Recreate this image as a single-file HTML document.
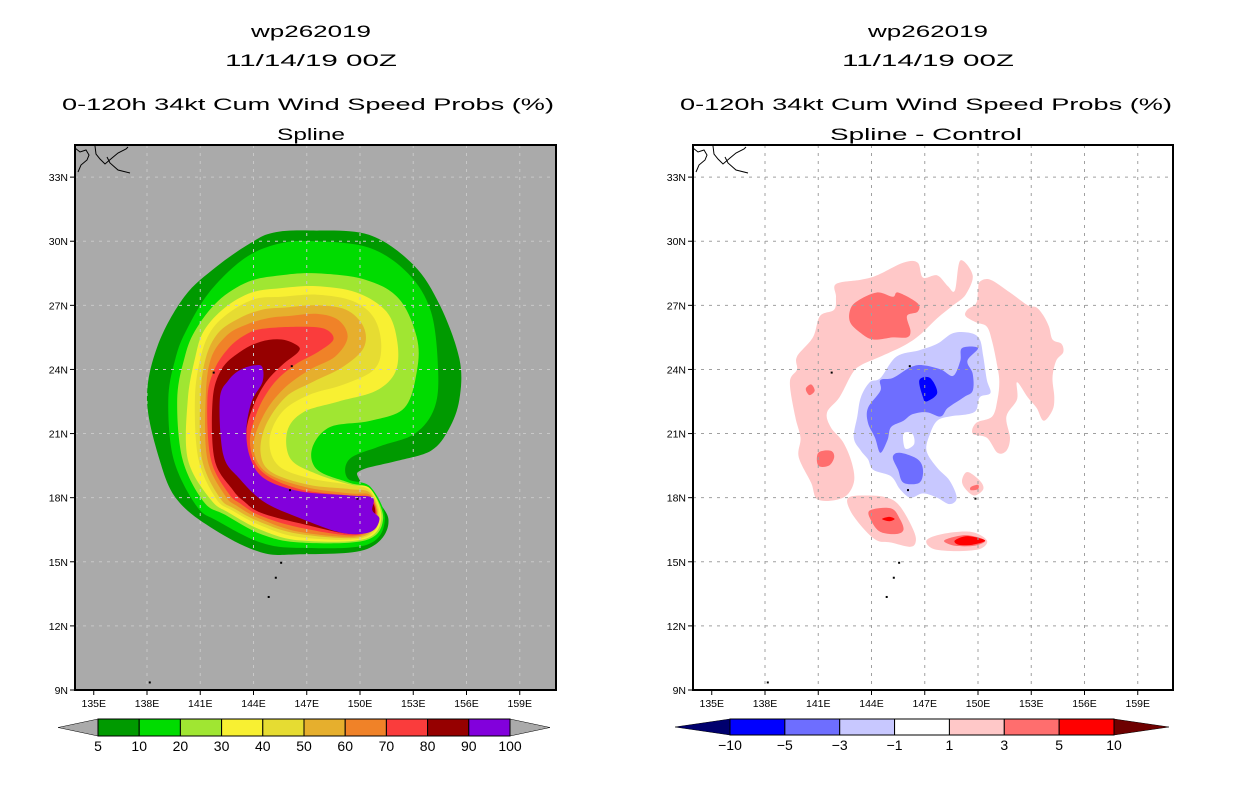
<!DOCTYPE html>
<html><head><meta charset="utf-8">
<style>
html,body{margin:0;padding:0;background:#fff;}
svg{display:block;font-family:"Liberation Sans",sans-serif;}
</style></head>
<body>
<svg id="chart" width="1236" height="800" viewBox="0 0 1236 800" xmlns="http://www.w3.org/2000/svg">
  <g font-size="16.5" fill="#000" text-anchor="middle">
    <text x="311" y="37" textLength="120" lengthAdjust="spacingAndGlyphs">wp262019</text>
    <text x="311" y="66" textLength="172" lengthAdjust="spacingAndGlyphs">11/14/19 00Z</text>
    <text x="308" y="110" textLength="492" lengthAdjust="spacingAndGlyphs">0-120h 34kt Cum Wind Speed Probs (%)</text>
    <text x="311" y="140" textLength="68" lengthAdjust="spacingAndGlyphs">Spline</text>
  </g>
  <g font-size="16.5" fill="#000" text-anchor="middle">
    <text x="928" y="37" textLength="120" lengthAdjust="spacingAndGlyphs">wp262019</text>
    <text x="928" y="66" textLength="172" lengthAdjust="spacingAndGlyphs">11/14/19 00Z</text>
    <text x="926" y="110" textLength="492" lengthAdjust="spacingAndGlyphs">0-120h 34kt Cum Wind Speed Probs (%)</text>
    <text x="926" y="140" textLength="192" lengthAdjust="spacingAndGlyphs">Spline - Control</text>
  </g>
  <g id="leftPanel"></g>
  <g id="rightPanel"></g>
  <g id="leftBar"></g>
  <g id="rightBar"></g>
</svg>
<script>
// ---------- data ----------
const lonTicks = [135,138,141,144,147,150,153,156,159];
const latTicks = [9,12,15,18,21,24,27,30,33];
const probLevels = ["5","10","20","30","40","50","60","70","80","90","100"];
const probColors = ["#009a00","#00dc00","#a0e632","#f8f032","#e6dc32","#e6af2d","#f08228","#fa3c3c","#960000","#8200dc"];
const diffLevels = ["-10","-5","-3","-1","1","3","5","10"];
const diffColors = ["#0000ff","#6e6eff","#c8c8ff","#ffffff","#ffc8c8","#ff6e6e","#ff0000"];
const diffLowColor = "#00006e";
const diffHighColor = "#6e0000";

// probability contours (lon, lat)
const prob5 = [[145.1,30.4],[147.2,30.5],[150.5,30.3],[153.0,28.9],[154.5,27.0],[155.6,24.5],[155.6,22.6],[155.0,21.2],[154.0,20.2],[152.0,19.7],[150.1,19.3],[150.0,18.8],[151.6,17.0],[150.4,15.6],[146.6,15.35],[144.4,15.45],[141.8,16.5],[139.7,17.9],[138.7,19.8],[138.0,22.6],[138.6,25.1],[140.1,27.4],[141.9,28.8],[143.8,29.9]];
const prob10 = [[145.5,29.9],[147.5,30.0],[150.5,29.7],[152.7,28.5],[154.0,26.7],[154.4,24.0],[154.2,22.2],[153.1,21.0],[151.1,20.4],[149.4,19.8],[149.3,18.9],[150.6,18.5],[151.4,17.0],[150.4,15.8],[146.6,15.65],[144.4,15.9],[142.0,16.9],[140.8,17.6],[139.5,19.8],[139.2,22.6],[139.6,24.5],[140.2,25.8],[141.5,27.6],[143.5,29.2]];
const prob20 = [[145.5,28.4],[147.5,28.5],[150.3,28.2],[152.2,27.3],[153.2,25.5],[153.2,23.9],[152.5,22.2],[150.6,21.6],[148.3,21.3],[147.3,20.3],[147.6,19.3],[149.4,18.7],[150.6,18.4],[151.3,17.0],[150.3,16.0],[146.6,15.9],[144.4,16.3],[142.4,17.2],[141.2,17.8],[140.0,19.8],[139.7,22.6],[140.1,24.5],[140.7,25.8],[142.0,27.2],[143.7,28.1]];
const prob30 = [[145.5,27.8],[147.5,27.9],[149.8,27.6],[151.5,26.7],[152.1,25.3],[152.0,23.9],[150.9,23.0],[148.8,22.5],[146.8,22.0],[145.9,21.1],[146.1,19.8],[147.6,19.1],[149.5,18.6],[150.6,18.4],[151.2,17.0],[150.2,16.05],[146.6,16.0],[144.4,16.5],[142.6,17.3],[141.6,17.9],[140.3,19.8],[140.3,22.6],[140.7,24.5],[141.2,25.8],[142.4,26.9],[143.9,27.6]];
const prob40 = [[145.6,27.4],[147.6,27.5],[149.6,27.2],[150.8,26.4],[151.2,25.1],[150.8,24.0],[149.1,23.3],[147.1,22.8],[145.6,22.0],[144.9,20.7],[145.4,19.5],[147.2,18.9],[149.4,18.6],[150.6,18.3],[151.1,17.0],[150.1,16.1],[146.6,16.15],[144.4,16.7],[142.8,17.4],[141.9,17.95],[140.9,19.8],[140.7,22.6],[141.0,24.5],[141.6,25.8],[142.7,26.7],[144.1,27.3]];
const prob50 = [[145.8,26.9],[147.5,27.0],[149.2,26.8],[150.2,26.0],[150.2,25.0],[149.0,24.1],[147.3,23.4],[145.8,22.7],[144.7,21.4],[144.4,20.1],[145.0,19.2],[147.1,18.6],[149.4,18.4],[150.6,18.2],[151.0,17.0],[150.0,16.15],[146.6,16.3],[144.4,16.85],[142.9,17.5],[142.1,18.0],[141.1,19.8],[141.0,22.6],[141.3,24.5],[142.0,25.7],[143.2,26.4],[144.5,26.8]];
const prob60 = [[146.0,26.5],[147.6,26.6],[148.8,26.3],[149.3,25.5],[148.6,24.6],[147.2,24.0],[145.7,23.1],[144.6,21.9],[144.0,20.4],[144.7,19.2],[146.9,18.5],[149.4,18.2],[150.6,18.1],[150.9,17.0],[149.9,16.2],[146.6,16.4],[144.4,17.0],[143.1,17.6],[142.4,18.1],[141.4,19.8],[141.3,22.6],[141.6,24.5],[142.5,25.6],[143.6,26.1],[144.8,26.4]];
const prob70 = [[144.5,25.9],[146.6,26.0],[148.0,25.9],[148.5,25.4],[147.6,24.8],[146.3,24.2],[145.1,23.3],[144.2,22.0],[143.8,20.5],[144.5,19.2],[146.6,18.4],[149.4,18.1],[150.6,18.0],[150.9,17.0],[149.8,16.25],[146.6,16.6],[144.4,17.15],[143.3,17.7],[142.6,18.2],[141.6,19.8],[141.4,22.6],[141.8,24.0],[142.6,25.0],[143.5,25.6]];
const prob80 = [[145.6,25.4],[146.5,25.1],[146.5,24.8],[145.6,24.2],[144.7,23.4],[144.0,22.3],[143.6,21.1],[143.8,19.8],[144.6,18.8],[146.6,18.2],[149.4,18.0],[150.6,17.9],[150.8,17.0],[149.7,16.3],[146.6,16.8],[144.4,17.3],[143.5,17.8],[142.8,18.4],[141.8,19.8],[141.7,22.6],[142.2,24.0],[143.2,24.8],[144.4,25.3]];
const prob90 = [[144.1,24.2],[144.5,24.1],[144.5,23.4],[143.9,22.5],[143.6,21.2],[143.8,19.9],[144.6,18.9],[146.6,18.3],[149.4,18.1],[150.7,18.0],[150.7,17.4],[151.1,17.0],[150.6,16.4],[149.0,16.35],[146.6,17.05],[144.6,17.8],[143.2,18.9],[142.3,20.0],[142.1,22.6],[142.6,23.5],[143.3,24.0]];

// difference contours (lon, lat)
const diffPink1 = [[142.0,28.0],[143.4,28.2],[144.3,28.4],[145.8,29.0],[146.6,29.0],[146.9,28.3],[147.7,28.4],[148.3,27.9],[148.7,27.7],[149.0,29.1],[149.7,28.4],[149.3,27.5],[148.6,27.0],[147.7,26.4],[146.7,25.6],[145.8,25.1],[144.5,24.6],[143.4,24.2],[142.9,23.8],[142.2,22.7],[141.5,22.0],[141.7,21.3],[142.4,20.6],[142.9,19.6],[143.0,18.7],[142.4,18.0],[141.0,17.9],[140.6,18.7],[139.9,19.9],[140.0,20.8],[139.7,21.8],[139.4,23.4],[139.8,24.0],[139.8,24.6],[140.7,25.5],[141.1,26.5],[141.9,26.8],[142.0,27.4]];
const diffPink2 = [[150.1,28.1],[150.7,28.2],[151.8,27.6],[152.8,27.0],[153.3,26.9],[153.7,26.5],[154.0,26.0],[154.2,25.4],[154.7,25.2],[154.8,24.8],[154.4,24.4],[154.2,23.6],[154.3,22.7],[154.2,22.1],[153.7,21.6],[153.3,22.2],[152.8,22.7],[152.2,23.4],[152.2,22.6],[151.6,21.8],[151.8,20.8],[151.6,20.2],[151.1,20.1],[150.5,20.8],[149.7,21.0],[149.9,21.5],[150.8,21.8],[151.1,22.6],[151.2,23.4],[151.1,24.1],[150.8,25.3],[150.5,26.0],[149.9,26.2],[149.3,26.5],[149.4,26.8],[149.9,27.1],[150.0,27.7]];
const diffPink3 = [[142.7,18.0],[143.8,18.1],[144.9,18.0],[145.6,17.6],[146.3,16.6],[146.5,16.0],[146.2,15.7],[145.1,15.9],[144.3,16.0],[143.5,16.6],[142.8,17.4]];
const diffPink4 = [[147.1,16.0],[148.0,16.3],[149.6,16.4],[150.5,16.0],[150.1,15.6],[148.8,15.5],[147.5,15.6]];
const diffPink5 = [[149.4,19.2],[150.1,18.8],[150.3,18.4],[149.8,18.1],[149.3,18.4],[149.1,18.8]];
const diffMed1 = [[142.8,26.8],[143.2,27.2],[144.3,27.6],[145.2,27.4],[145.5,27.6],[146.6,27.1],[146.6,26.7],[146.0,26.5],[146.2,25.8],[146.0,25.5],[145.2,25.5],[144.1,25.4],[143.4,25.7],[142.8,26.2]];
const diffMed2 = [[141.0,20.1],[141.7,20.2],[141.9,19.9],[141.6,19.5],[141.0,19.5]];
const diffMed3 = [[140.3,23.1],[140.6,23.3],[140.8,23.0],[140.5,22.8]];
const diffMed4 = [[143.9,17.4],[145.1,17.5],[145.6,17.0],[145.8,16.5],[145.4,16.3],[144.5,16.4],[144.0,16.9]];
const diffMed5 = [[148.1,16.0],[149.3,16.25],[150.4,16.0],[149.8,15.75],[148.7,15.75]];
const diffMed6 = [[149.6,18.5],[150.0,18.6],[150.0,18.4],[149.6,18.35]];
const diffRed1 = [[144.6,17.0],[145.0,17.1],[145.3,17.0],[145.0,16.9]];
const diffRed2 = [[148.7,16.0],[149.4,16.2],[150.4,16.0],[149.7,15.8],[148.9,15.8]];
const diffLightBlue = [[143.4,22.7],[143.9,23.4],[144.5,23.6],[145.4,24.6],[146.7,24.9],[147.7,25.2],[148.6,25.7],[149.6,25.7],[150.1,25.4],[150.3,24.6],[150.5,23.5],[150.7,22.9],[150.1,22.7],[149.9,22.1],[149.4,21.9],[148.4,21.8],[147.7,21.6],[147.3,21.0],[147.1,20.2],[147.7,19.4],[148.4,18.8],[148.8,18.0],[148.4,17.7],[147.7,18.0],[146.9,18.2],[146.2,18.0],[145.6,18.4],[145.1,19.0],[144.1,19.3],[143.8,19.8],[143.4,20.2],[143.0,20.8],[143.2,21.8]];
const diffHole = [[145.8,21.0],[146.3,21.0],[146.4,20.5],[145.9,20.3]];
const diffMedBlue1 = [[143.8,22.2],[144.5,23.0],[144.5,23.5],[145.2,23.6],[146.2,24.1],[146.9,24.2],[147.9,24.0],[148.6,23.7],[149.0,24.4],[149.1,25.0],[150.0,25.0],[149.4,24.4],[149.7,23.8],[149.7,23.0],[149.2,22.7],[148.3,22.2],[147.9,21.8],[147.1,22.0],[146.3,21.9],[145.8,21.6],[145.1,21.3],[144.9,20.7],[144.5,20.1],[144.2,20.8],[143.8,21.5]];
const diffMedBlue2 = [[145.2,19.9],[145.6,20.1],[146.6,19.8],[146.9,19.3],[146.7,18.7],[145.8,18.7],[145.5,19.3]];
const diffDarkBlue = [[146.7,23.5],[147.3,23.6],[147.7,22.9],[147.1,22.5],[146.9,22.7]];

// ---------- layout ----------
const NS = "http://www.w3.org/2000/svg";
function mk(tag, attrs, parent){const e=document.createElementNS(NS,tag);for(const k in attrs)e.setAttribute(k,attrs[k]);if(parent)parent.appendChild(e);return e;}
const plotTop=145, plotBottom=690;
function yScale(lat){return plotBottom-(lat-9)*21.37;}
function makeX(offset){return function(lon){return offset+360+(lon-150)*17.75;};}
const xLeft = makeX(0), xRight = makeX(618);

function smoothPath(pts, xs){
  const P = pts.map(p=>[xs(p[0]), yScale(p[1])]);
  const n=P.length; let d="M"+P[0][0].toFixed(1)+","+P[0][1].toFixed(1);
  for(let i=0;i<n;i++){
    const p0=P[(i-1+n)%n],p1=P[i],p2=P[(i+1)%n],p3=P[(i+2)%n];
    const c1=[p1[0]+(p2[0]-p0[0])/6,p1[1]+(p2[1]-p0[1])/6];
    const c2=[p2[0]-(p3[0]-p1[0])/6,p2[1]-(p3[1]-p1[1])/6];
    d+="C"+c1[0].toFixed(1)+","+c1[1].toFixed(1)+" "+c2[0].toFixed(1)+","+c2[1].toFixed(1)+" "+p2[0].toFixed(1)+","+p2[1].toFixed(1);
  }
  return d+"Z";
}

function drawPanel(g, xs, x0, x1, bg, gridColor, layers){
  const clipId = "clip"+x0;
  const defs = mk("defs",{},g);
  const cp = mk("clipPath",{id:clipId},defs);
  mk("rect",{x:x0,y:plotTop,width:x1-x0,height:plotBottom-plotTop},cp);
  const bgR = mk("rect",{x:x0,y:plotTop,width:x1-x0,height:plotBottom-plotTop,fill:bg},g);
  
  
  const cg = mk("g",{"clip-path":"url(#"+clipId+")"},g);
  
  
  layers.forEach(L=>{
    const p = mk("path",{d:smoothPath(L.pts,xs),fill:L.color},cg);
    
    
  });
  const coast = mk("path",{d:`M${x0},${plotTop+3} l5,4 l6,-2 l3,5 l-2,5 l-6,5 l-3,7 M${x0+20},${plotTop+1} l1,8 l4,5 l5,5 l7,-6 l6,-5 l8,-4 l2,-2 M${x0+32},${plotTop+12} l3,6 l8,7 l12,3`,fill:"none",stroke:"#000","stroke-width":1},cg);
  
  
  const islands=[[145.5,15.0],[145.2,14.3],[144.8,13.4],[138.1,9.4],[141.7,23.9],[146.1,24.2],[146.0,18.4],[149.8,18.0]];
  islands.forEach(isl=>{
    const r=mk("rect",{x:xs(isl[0]),y:yScale(isl[1]),width:2,height:2,fill:"#000"},cg);
    
    
  });
  lonTicks.slice(1).forEach(lon=>{
    const l=mk("line",{x1:xs(lon),x2:xs(lon),y1:plotTop,y2:plotBottom,stroke:gridColor,"stroke-width":1,"stroke-dasharray":"3,5"},g);
    
    
  });
  latTicks.slice(1).forEach(lat=>{
    const l=mk("line",{x1:x0,x2:x1,y1:yScale(lat),y2:yScale(lat),stroke:gridColor,"stroke-width":1,"stroke-dasharray":"3,5"},g);
    
    
  });
  const fr = mk("rect",{x:x0,y:plotTop,width:x1-x0,height:plotBottom-plotTop,fill:"none",stroke:"#000","stroke-width":2},g);
  
  
  lonTicks.forEach(lon=>{
    const t=mk("line",{x1:xs(lon),x2:xs(lon),y1:plotBottom,y2:plotBottom+5,stroke:"#000","stroke-width":1},g);
    
    
    const tx=mk("text",{x:xs(lon),y:plotBottom+17,"font-size":10.5,"text-anchor":"middle",fill:"#000"},g);
    tx.textContent=lon+"E";
    
    
  });
  latTicks.forEach(lat=>{
    const t=mk("line",{x1:x0-5,x2:x0,y1:yScale(lat),y2:yScale(lat),stroke:"#000","stroke-width":1},g);
    
    
    const tx=mk("text",{x:x0-7,y:yScale(lat)+4,"font-size":10.5,"text-anchor":"end",fill:"#000"},g);
    tx.textContent=lat+"N";
    
    
  });
}

const probLayers=[prob5,prob10,prob20,prob30,prob40,prob50,prob60,prob70,prob80,prob90].map((p,i)=>({pts:p,color:probColors[i],name:"prob-contour-"+probLevels[i]}));
drawPanel(document.getElementById("leftPanel"), xLeft, 75, 556, "#aaaaaa", "#c8c8c8", probLayers);

const diffLayers=[
 {pts:diffPink1,color:diffColors[4],name:"diff-contour-1-3"},
 {pts:diffPink2,color:diffColors[4],name:"diff-contour-1-3"},
 {pts:diffPink3,color:diffColors[4],name:"diff-contour-1-3"},
 {pts:diffPink4,color:diffColors[4],name:"diff-contour-1-3"},
 {pts:diffPink5,color:diffColors[4],name:"diff-contour-1-3"},
 {pts:diffMed1,color:diffColors[5],name:"diff-contour-3-5"},
 {pts:diffMed2,color:diffColors[5],name:"diff-contour-3-5"},
 {pts:diffMed3,color:diffColors[5],name:"diff-contour-3-5"},
 {pts:diffMed4,color:diffColors[5],name:"diff-contour-3-5"},
 {pts:diffMed5,color:diffColors[5],name:"diff-contour-3-5"},
 {pts:diffMed6,color:diffColors[5],name:"diff-contour-3-5"},
 {pts:diffRed1,color:diffColors[6],name:"diff-contour-5-10"},
 {pts:diffRed2,color:diffColors[6],name:"diff-contour-5-10"},
 {pts:diffLightBlue,color:diffColors[2],name:"diff-contour-neg1-neg3"},
 {pts:diffHole,color:diffColors[3],name:"diff-contour-hole"},
 {pts:diffMedBlue1,color:diffColors[1],name:"diff-contour-neg3-neg5"},
 {pts:diffMedBlue2,color:diffColors[1],name:"diff-contour-neg3-neg5"},
 {pts:diffDarkBlue,color:diffColors[0],name:"diff-contour-neg5-neg10"}
];
drawPanel(document.getElementById("rightPanel"), xRight, 693, 1173, "#ffffff", "#a0a0a0", diffLayers);

// ---------- colorbars ----------
function drawBar(g, x0, x1, y0, y1, triW, colors, labels, lowC, highC, fs){
  const n=colors.length, w=(x1-x0)/n, ym=(y0+y1)/2;
  const lt=mk("polygon",{points:`${x0-triW},${ym} ${x0},${y0} ${x0},${y1}`,fill:lowC,stroke:"#000","stroke-width":0.5},g);
  
  
  const rt=mk("polygon",{points:`${x1+triW},${ym} ${x1},${y0} ${x1},${y1}`,fill:highC,stroke:"#000","stroke-width":0.5},g);
  
  
  colors.forEach((c,i)=>{
    const r=mk("rect",{x:x0+i*w,y:y0,width:w,height:y1-y0,fill:c,stroke:"#000","stroke-width":1},g);
    
    
  });
  labels.forEach((lab,i)=>{
    const t=mk("text",{x:x0+i*w,y:y1+15,"font-size":fs,"text-anchor":"middle",fill:"#000"},g);
    t.textContent=lab.replace("-","\u2212");
    
    
  });
}
drawBar(document.getElementById("leftBar"), 98, 510, 719, 736, 40, probColors, probLevels, "#aaaaaa", "#aaaaaa", 14);
drawBar(document.getElementById("rightBar"), 730, 1114, 719, 735, 55, diffColors, diffLevels, diffLowColor, diffHighColor, 14);
</script>
</body></html>
